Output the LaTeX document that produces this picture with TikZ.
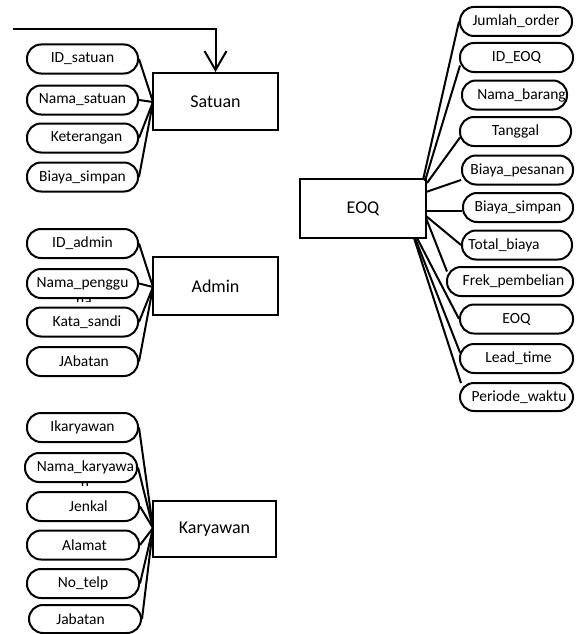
\documentclass[tikz,border=0pt]{standalone}
\usepackage{fontspec}
\setmainfont{Carlito}
\usetikzlibrary{arrows.meta}
\begin{document}
\begin{tikzpicture}[x=1pt,y=-1pt,line width=2pt,
  attr/.style={draw,fill=white,rounded corners=14pt,minimum width=111pt,
    minimum height=29pt,inner xsep=0pt,inner ysep=0pt,
    font=\fontsize{15.5}{18}\selectfont},
  entity/.style={draw,fill=white,minimum width=125pt,minimum height=57pt,
    inner sep=0pt,font=\fontsize{18}{21}\selectfont},
  frag/.style={inner sep=0pt,font=\fontsize{15.5}{18}\selectfont},
  link/.style={line width=2pt}]
\useasboundingbox (0,0) rectangle (578,634);

% ---------- entities ----------
\node[entity] (satuan) at (215.5,101.5) {Satuan};
\node[entity,minimum height=58pt] (admin) at (215.5,286) {Admin};
\node[entity,minimum width=123pt,minimum height=56pt] (karyawan) at (214.5,529) {Karyawan};
\node[entity,minimum width=126pt,minimum height=59pt] (eoq) at (363,208.5) {EOQ};

% ---------- junction points ----------
\coordinate (js) at (153,102);
\coordinate (ja) at (153,287);
\coordinate (jk) at (153,528);
\coordinate (e1) at (423,180);
\coordinate (e2) at (425,181);
\coordinate (e3) at (427,183);
\coordinate (e4) at (426,192);
\coordinate (e5) at (426,211);
\coordinate (e6) at (426,216);
\coordinate (e7) at (426,218);
\coordinate (e8) at (417,238);
\coordinate (e9) at (415,238);
\coordinate (e10) at (414,238);

% ---------- Satuan attributes ----------
\node[attr] (ids) at (82.5,59) {ID\_satuan};
\node[attr] (nms) at (82.5,100) {Nama\_satuan};
\node[attr] (ket) at (82.5,138) {\hspace*{8pt}Keterangan};
\node[attr] (bys) at (82.5,177) {Biaya\_simpan};
\foreach \n in {ids,nms,ket,bys} \draw[link] (\n.east) -- (js);

% ---------- Admin attributes ----------
\begin{scope}
  \clip (60,298) rectangle (110,301.5);
  \node[frag] (nmpb) at (84,302) {na};
\end{scope}
\node[attr] (ida) at (82.5,243.5) {ID\_admin};
\node[attr] (nmp) at (82.5,283.5) {Nama\_penggu};
\node[attr] (kts) at (82.5,322) {\hspace*{9pt}Kata\_sandi};
\node[attr] (jba) at (82.5,361.5) {\hspace*{3pt}JAbatan};
\foreach \n in {ida,nmp,kts,jba} \draw[link] (\n.east) -- (ja);

% ---------- Karyawan attributes ----------
\begin{scope}
  \clip (70,482.5) rectangle (100,485.5);
  \node[frag] (nmkb) at (85,486) {n};
\end{scope}
\node[attr] (ika) at (82.5,427.5) {Ikaryawan};
\node[attr,minimum width=112pt] (nmk) at (81,467.5) {\hspace*{9pt}Nama\_karyawa};
\node[attr,minimum width=112pt] (jen) at (83,506.5) {\hspace*{11pt}Jenkal};
\node[attr,minimum width=112pt] (ala) at (83,545) {\hspace*{3pt}Alamat};
\node[attr,minimum width=112pt] (ntp) at (83,583.5) {No\_telp};
\node[attr,minimum width=112pt,minimum height=28pt] (jbt) at (85,619) {Jabatan\hspace*{9pt}};
\foreach \n in {ika,nmk,jen,ala,ntp,jbt} \draw[link] (\n.east) -- (jk);

% ---------- EOQ attributes ----------
\node[attr,minimum width=112pt] (jo) at (516,21.5) {Jumlah\_order};
\node[attr,minimum width=113pt] (ideoq) at (516.5,57.5) {ID\_EOQ};
\node[attr,minimum width=105pt] (nb) at (514.5,95) {\hspace*{14pt}Nama\_barang};
\node[attr] (tg) at (515.5,131.5) {Tanggal};
\node[attr] (bp) at (517.5,170) {Biaya\_pesanan};
\node[attr,minimum width=110pt] (bsp) at (518,207.5) {Biaya\_simpan};
\node[attr,minimum width=110pt] (tb) at (517,245) {Total\_biaya\hspace*{26pt}};
\node[attr,minimum width=126pt] (fp) at (510,281.5) {\hspace*{7pt}Frek\_pembelian};
\node[attr,minimum width=113pt] (eoqa) at (516.5,319) {EOQ};
\node[attr,minimum width=113pt] (lt) at (516.5,358.5) {\hspace*{4pt}Lead\_time};
\node[attr,minimum width=113pt,minimum height=28pt] (pw) at (516.5,397) {\hspace*{5pt}Periode\_waktu};

\draw[link] (jo.west) -- (e1);
\draw[link] ([shift={(1pt,-8pt)}]ideoq.west) -- (e2);
\draw[link] ([shift={(1pt,-6pt)}]tg.west) -- (e3);
\draw[link] ([yshift=-10pt]bp.west) -- (e4);
\draw[link] ([yshift=-3.5pt]bsp.west) -- (e5);
\draw[link] (tb.west) -- (e6);
\draw[link] ([shift={(1pt,10pt)}]fp.west) -- (e7);
\draw[link] (eoqa.west) -- (e8);
\draw[link] ([shift={(1pt,6pt)}]lt.west) -- (e9);
\draw[link] ([shift={(2pt,14pt)}]pw.west) -- (e10);

% ---------- incoming arrow ----------
\coordinate (src) at (13,29);
\draw[link,-{Straight Barb[length=19pt,width=22pt]}] (src) -| (satuan.north);
\end{tikzpicture}
\end{document}
